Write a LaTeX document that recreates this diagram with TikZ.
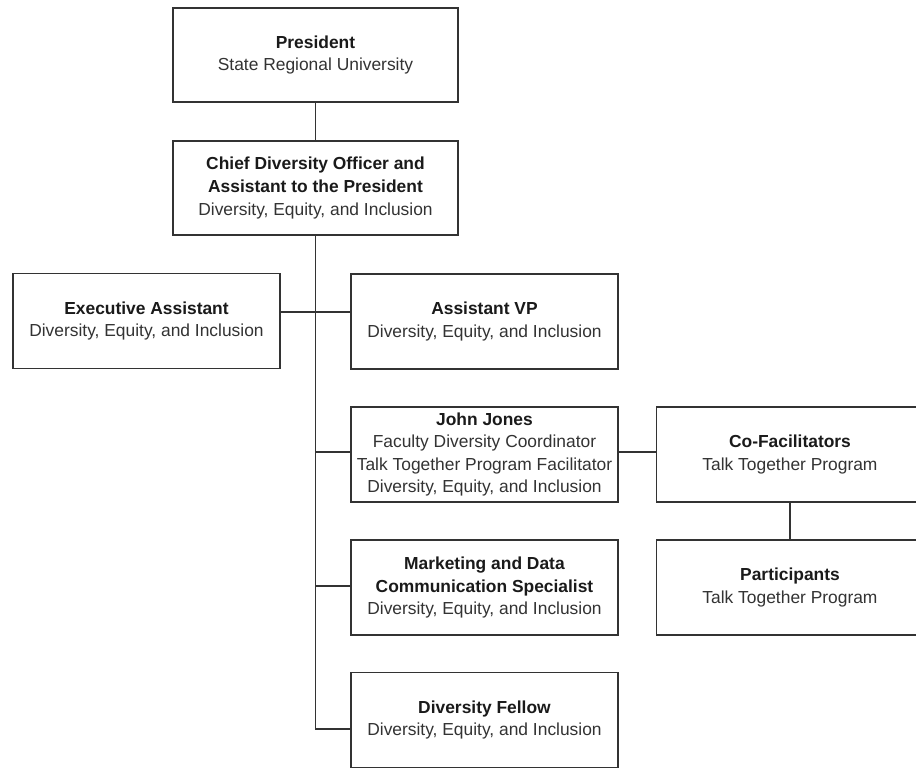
\documentclass[tikz,border=0pt]{standalone}
\usepackage{fontspec}
\setmainfont{Liberation Sans}
\begin{document}
\begin{tikzpicture}[x=1pt,y=-1pt,
  orgbox/.style={draw=linegray, line width=1.5pt, fill=white, inner sep=0pt,
    minimum width=267pt, minimum height=95pt, align=center,
    text=bodygray, font=\fontsize{17.4}{22.6}\selectfont},
  wide/.style={minimum width=285pt, minimum height=94pt},
  link/.style={draw=linegray, line width=1.5pt}]
\definecolor{linegray}{HTML}{333333}
\definecolor{bodygray}{HTML}{333333}
\definecolor{headblack}{HTML}{1A1A1A}
\newcommand{\hd}[1]{\textcolor{headblack}{\textbf{#1}}}

\useasboundingbox (0,0) rectangle (916,769);
\clip (0,0) rectangle (916,769);
\fill[white] (0,0) rectangle (916,769);

% top of the hierarchy
\node[orgbox, wide] (pres) at (315.5,55) {\hd{President}\\State Regional University};
\node[orgbox, wide] (cdo) at (315.5,188) {\hd{Chief Diversity Officer and}\\\hd{Assistant to the President}\\Diversity, Equity, and Inclusion};

% direct reports
\node[orgbox] (exec) at (146.5,321) {\hd{Executive Assistant}\\Diversity, Equity, and Inclusion};
\node[orgbox] (avp) at (484.5,321.5) {\hd{Assistant VP}\\Diversity, Equity, and Inclusion};
\node[orgbox] (jj) at (484.5,454.5) {\hd{John Jones}\\Faculty Diversity Coordinator\\Talk Together Program Facilitator\\Diversity, Equity, and Inclusion};
\node[orgbox] (mkt) at (484.5,587.5) {\hd{Marketing and Data}\\\hd{Communication Specialist}\\Diversity, Equity, and Inclusion};
\node[orgbox] (fellow) at (484.5,720) {\hd{Diversity Fellow}\\Diversity, Equity, and Inclusion};

% Talk Together program
\node[orgbox] (cofac) at (790,454.5) {\hd{Co-Facilitators}\\Talk Together Program};
\node[orgbox] (part) at (790,587.5) {\hd{Participants}\\Talk Together Program};

% connectors
\coordinate (trunkend) at (315.5,729);
\draw[link] (pres.south) -- (cdo.north);
\draw[link] (cdo.south) -- (trunkend) -- ([yshift=-9pt]fellow.west);
\draw[link] ([yshift=9pt]exec.east) -- ([yshift=9.5pt]avp.west);
\draw[link] (cdo.south |- jj.west) ++(0,-2.5) -- ([yshift=2.5pt]jj.west);
\draw[link] (cdo.south |- mkt.west) ++(0,-1.5) -- ([yshift=1.5pt]mkt.west);
\draw[link] ([yshift=2.5pt]jj.east) -- ([yshift=2.5pt]cofac.west);
\draw[link] (cofac.south) -- (part.north);
\end{tikzpicture}
\end{document}
